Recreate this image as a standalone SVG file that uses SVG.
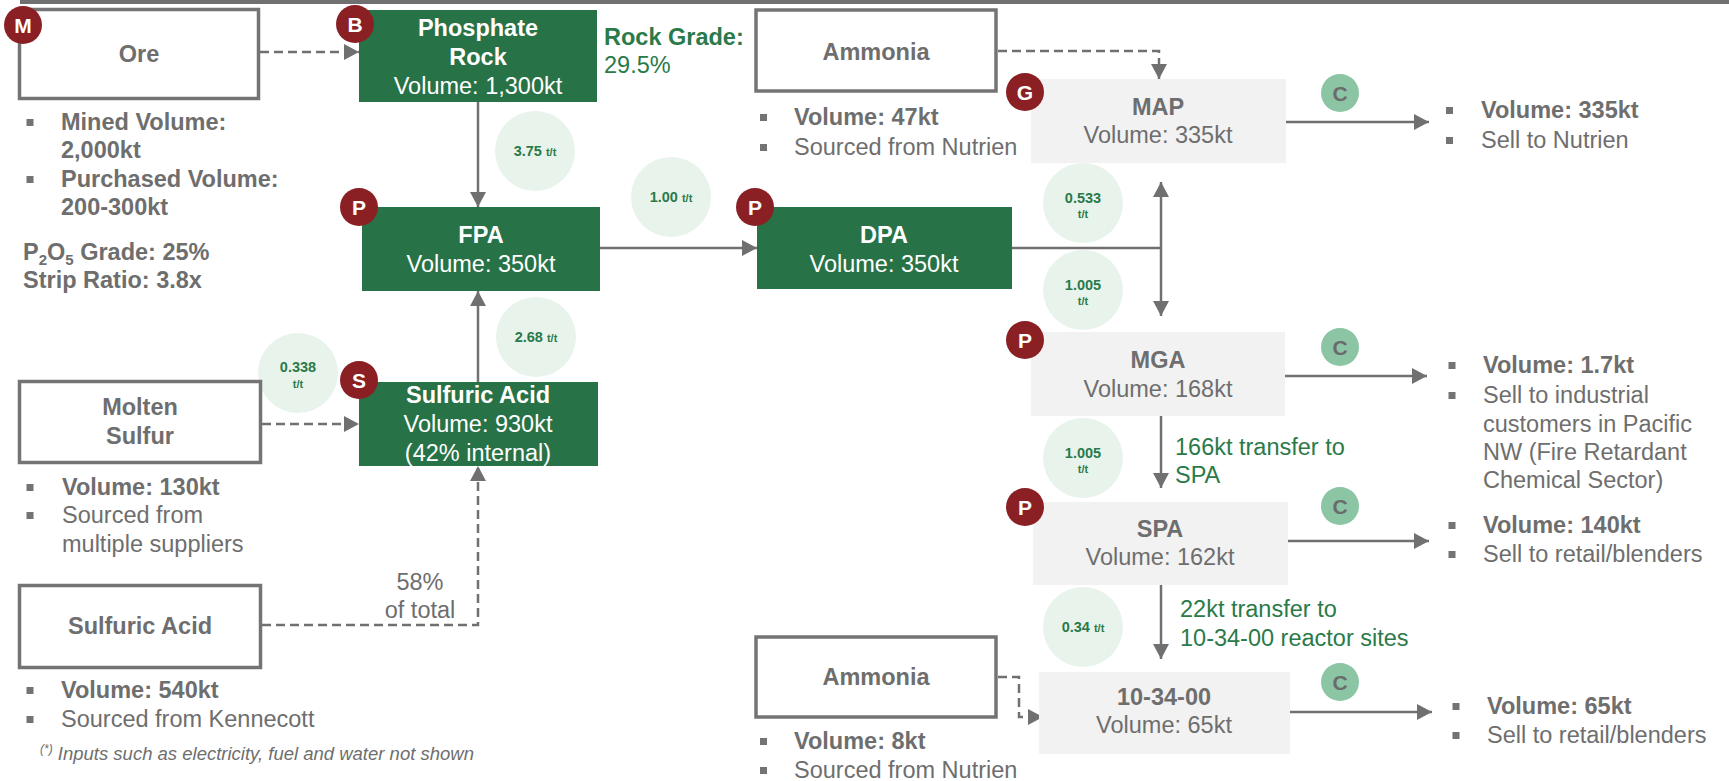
<svg xmlns="http://www.w3.org/2000/svg" width="1729" height="781" viewBox="0 0 1729 781">
<style>
text{font-family:"Liberation Sans",Arial,sans-serif;font-size:23.5px;fill:#6e6e6e}
.b{font-weight:bold}
.w{fill:#fff}
.g{fill:#2a7a4a}
.c{text-anchor:middle}
.box{fill:#fff;stroke:#747474;stroke-width:3.5}
.gb{fill:#277246}
.lb{fill:#f2f2f2}
.badge{fill:#8a1f24}
.cb{fill:#8cc5a3}
.bt{font-size:21px;font-weight:bold;fill:#fff;text-anchor:middle}
.ct{font-size:21px;font-weight:bold;fill:#6b6b6b;text-anchor:middle}
.ratio{fill:#e8f3ec}
.rt{font-size:14.5px;font-weight:bold;fill:#2a7a4a;text-anchor:middle}
.rs{font-size:11px}
.ln{stroke:#707070;stroke-width:2.5;fill:none}
.dash{stroke-dasharray:9 5}
.sq{fill:#737373}
.fn{font-size:18.5px;font-style:italic}
</style>
<defs>
<marker id="ah" markerUnits="userSpaceOnUse" markerWidth="15" markerHeight="16" refX="15" refY="8" orient="auto-start-reverse">
<path d="M0,0 L15,8 L0,16 z" fill="#707070"/>
</marker>
</defs>

<rect x="20" y="0" width="1709" height="4" fill="#707070"/>

<g id="ratios">
<circle class="ratio" cx="535" cy="151" r="40"/>
<text class="rt" x="535" y="156">3.75 <tspan class="rs">t/t</tspan></text>
<circle class="ratio" cx="671" cy="197" r="40"/>
<text class="rt" x="671" y="202">1.00 <tspan class="rs">t/t</tspan></text>
<circle class="ratio" cx="536" cy="337" r="40"/>
<text class="rt" x="536" y="342">2.68 <tspan class="rs">t/t</tspan></text>
<circle class="ratio" cx="298" cy="373" r="40"/>
<text class="rt" x="298" y="372">0.338</text>
<text class="rt rs" x="298" y="388">t/t</text>
<circle class="ratio" cx="1083" cy="203" r="40"/>
<text class="rt" x="1083" y="203">0.533</text>
<text class="rt rs" x="1083" y="218">t/t</text>
<circle class="ratio" cx="1083" cy="290" r="40"/>
<text class="rt" x="1083" y="290">1.005</text>
<text class="rt rs" x="1083" y="305">t/t</text>
<circle class="ratio" cx="1083" cy="458" r="40"/>
<text class="rt" x="1083" y="458">1.005</text>
<text class="rt rs" x="1083" y="473">t/t</text>
<circle class="ratio" cx="1083" cy="627" r="40"/>
<text class="rt" x="1083" y="632">0.34 <tspan class="rs">t/t</tspan></text>
</g>

<g id="connectors">
<path class="ln dash" d="M260,52 H359" marker-end="url(#ah)"/>
<path class="ln" d="M478,102 V207" marker-end="url(#ah)"/>
<path class="ln" d="M600,248 H757" marker-end="url(#ah)"/>
<path class="ln" d="M1012,248 H1161"/>
<path class="ln" d="M1161,182 V316" marker-start="url(#ah)" marker-end="url(#ah)"/>
<path class="ln dash" d="M998,51 H1159 V79" marker-end="url(#ah)"/>
<path class="ln dash" d="M262,424 H359" marker-end="url(#ah)"/>
<path class="ln dash" d="M262,625 H478 V466" marker-end="url(#ah)"/>
<path class="ln" d="M478,382 V291" marker-end="url(#ah)"/>
<path class="ln" d="M1161,416 V488" marker-end="url(#ah)"/>
<path class="ln" d="M1161,585 V659" marker-end="url(#ah)"/>
<path class="ln dash" d="M998,677 H1019 V717 H1043" marker-end="url(#ah)"/>
<path class="ln" d="M1286,122 H1429" marker-end="url(#ah)"/>
<path class="ln" d="M1285,376 H1427" marker-end="url(#ah)"/>
<path class="ln" d="M1288,541 H1429" marker-end="url(#ah)"/>
<path class="ln" d="M1290,712 H1432" marker-end="url(#ah)"/>
</g>

<g id="ore">
<rect class="box" x="19.5" y="9.5" width="239" height="89"/>
<text class="b c" x="139" y="62">Ore</text>
<circle class="badge" cx="23" cy="25" r="19"/>
<text class="bt" x="23" y="32.5">M</text>
<rect class="sq" x="26.5" y="119" width="7" height="7"/>
<text class="b" x="61" y="130">Mined Volume:</text>
<text class="b" x="61" y="158">2,000kt</text>
<rect class="sq" x="26.5" y="176" width="7" height="7"/>
<text class="b" x="61" y="187">Purchased Volume:</text>
<text class="b" x="61" y="215">200-300kt</text>
<text class="b" x="23" y="260">P<tspan font-size="15" dy="5">2</tspan><tspan dy="-5">O</tspan><tspan font-size="15" dy="5">5</tspan><tspan dy="-5"> Grade: 25%</tspan></text>
<text class="b" x="23" y="288">Strip Ratio: 3.8x</text>
</g>

<g id="phosphate-rock">
<rect class="gb" x="359" y="10" width="238" height="92"/>
<text class="b c w" x="478" y="36">Phosphate</text>
<text class="b c w" x="478" y="65">Rock</text>
<text class="c w" x="478" y="94">Volume: 1,300kt</text>
<circle class="badge" cx="355" cy="24" r="19"/>
<text class="bt" x="355" y="31.5">B</text>
</g>

<g id="rock-grade">
<text class="b g" x="604" y="45">Rock Grade:</text>
<text class="g" x="604" y="73">29.5%</text>
</g>

<g id="fpa">
<rect class="gb" x="362" y="207" width="238" height="84"/>
<text class="b c w" x="481" y="243">FPA</text>
<text class="c w" x="481" y="272">Volume: 350kt</text>
<circle class="badge" cx="359" cy="207" r="19"/>
<text class="bt" x="359" y="214.5">P</text>
</g>

<g id="dpa">
<rect class="gb" x="757" y="207" width="255" height="82"/>
<text class="b c w" x="884" y="243">DPA</text>
<text class="c w" x="884" y="272">Volume: 350kt</text>
<circle class="badge" cx="755" cy="207" r="19"/>
<text class="bt" x="755" y="214.5">P</text>
</g>

<g id="ammonia-top">
<rect class="box" x="756" y="10" width="240" height="81"/>
<text class="b c" x="876" y="60">Ammonia</text>
<rect class="sq" x="760" y="114" width="7" height="7"/>
<text class="b" x="794" y="125">Volume: 47kt</text>
<rect class="sq" x="760" y="144" width="7" height="7"/>
<text x="794" y="155">Sourced from Nutrien</text>
</g>

<g id="map">
<rect class="lb" x="1031" y="79" width="255" height="84"/>
<text class="b c" x="1158" y="115">MAP</text>
<text class="c" x="1158" y="143">Volume: 335kt</text>
<circle class="badge" cx="1025" cy="92" r="19"/>
<text class="bt" x="1025" y="99.5">G</text>
</g>

<g id="mga">
<rect class="lb" x="1031" y="332" width="254" height="84"/>
<text class="b c" x="1158" y="368">MGA</text>
<text class="c" x="1158" y="397">Volume: 168kt</text>
<circle class="badge" cx="1025" cy="340" r="19"/>
<text class="bt" x="1025" y="347.5">P</text>
</g>

<g id="mga-transfer">
<text class="g" x="1175" y="455">166kt transfer to</text>
<text class="g" x="1175" y="483">SPA</text>
</g>

<g id="spa">
<rect class="lb" x="1033" y="502" width="255" height="83"/>
<text class="b c" x="1160" y="537">SPA</text>
<text class="c" x="1160" y="565">Volume: 162kt</text>
<circle class="badge" cx="1025" cy="507" r="19"/>
<text class="bt" x="1025" y="514.5">P</text>
</g>

<g id="spa-transfer">
<text class="g" x="1180" y="617">22kt transfer to</text>
<text class="g" x="1180" y="646">10-34-00 reactor sites</text>
</g>

<g id="ammonia-bottom">
<rect class="box" x="756" y="637" width="240" height="80"/>
<text class="b c" x="876" y="685">Ammonia</text>
<rect class="sq" x="760" y="738" width="7" height="7"/>
<text class="b" x="794" y="749">Volume: 8kt</text>
<rect class="sq" x="760" y="767" width="7" height="7"/>
<text x="794" y="778">Sourced from Nutrien</text>
</g>

<g id="n10-34-00">
<rect class="lb" x="1039" y="672" width="251" height="82"/>
<text class="b c" x="1164" y="705">10-34-00</text>
<text class="c" x="1164" y="733">Volume: 65kt</text>
</g>

<g id="sulfuric-acid">
<rect class="gb" x="359" y="382" width="239" height="84"/>
<text class="b c w" x="478" y="403">Sulfuric Acid</text>
<text class="c w" x="478" y="432">Volume: 930kt</text>
<text class="c w" x="478" y="461">(42% internal)</text>
<circle class="badge" cx="359" cy="380" r="19"/>
<text class="bt" x="359" y="387.5">S</text>
</g>

<g id="molten-sulfur">
<rect class="box" x="19.5" y="381.5" width="241" height="81"/>
<text class="b c" x="140" y="415">Molten</text>
<text class="b c" x="140" y="444">Sulfur</text>
<rect class="sq" x="26.5" y="484" width="7" height="7"/>
<text class="b" x="62" y="495">Volume: 130kt</text>
<rect class="sq" x="26.5" y="512" width="7" height="7"/>
<text x="62" y="523">Sourced from</text>
<text x="62" y="552">multiple suppliers</text>
</g>

<g id="sulfuric-acid-ext">
<rect class="box" x="19.5" y="585.5" width="241" height="82"/>
<text class="b c" x="140" y="634">Sulfuric Acid</text>
<rect class="sq" x="26.5" y="687" width="7" height="7"/>
<text class="b" x="61" y="698">Volume: 540kt</text>
<rect class="sq" x="26.5" y="716" width="7" height="7"/>
<text x="61" y="727">Sourced from Kennecott</text>
<text class="c" x="420" y="590">58%</text>
<text class="c" x="420" y="618">of total</text>
</g>

<g id="out-map">
<circle class="cb" cx="1340" cy="93" r="19"/>
<text class="ct" x="1340" y="100.5">C</text>
<rect class="sq" x="1446" y="107" width="7" height="7"/>
<text class="b" x="1481" y="118">Volume: 335kt</text>
<rect class="sq" x="1446" y="137" width="7" height="7"/>
<text x="1481" y="148">Sell to Nutrien</text>
</g>

<g id="out-mga">
<circle class="cb" cx="1340" cy="347" r="19"/>
<text class="ct" x="1340" y="354.5">C</text>
<rect class="sq" x="1448.5" y="362" width="7" height="7"/>
<text class="b" x="1483" y="373">Volume: 1.7kt</text>
<rect class="sq" x="1448.5" y="392" width="7" height="7"/>
<text x="1483" y="403">Sell to industrial</text>
<text x="1483" y="432">customers in Pacific</text>
<text x="1483" y="460">NW (Fire Retardant</text>
<text x="1483" y="488">Chemical Sector)</text>
</g>

<g id="out-spa">
<circle class="cb" cx="1340" cy="506" r="19"/>
<text class="ct" x="1340" y="513.5">C</text>
<rect class="sq" x="1448.5" y="522" width="7" height="7"/>
<text class="b" x="1483" y="533">Volume: 140kt</text>
<rect class="sq" x="1448.5" y="551" width="7" height="7"/>
<text x="1483" y="562">Sell to retail/blenders</text>
</g>

<g id="out-10-34-00">
<circle class="cb" cx="1340" cy="682" r="19"/>
<text class="ct" x="1340" y="689.5">C</text>
<rect class="sq" x="1452.5" y="703" width="7" height="7"/>
<text class="b" x="1487" y="714">Volume: 65kt</text>
<rect class="sq" x="1452.5" y="732" width="7" height="7"/>
<text x="1487" y="743">Sell to retail/blenders</text>
</g>

<g id="footnote">
<text class="fn" x="40" y="760"><tspan font-size="12" dy="-7">(*)</tspan><tspan dy="7"> Inputs such as electricity, fuel and water not shown</tspan></text>
</g>
</svg>
